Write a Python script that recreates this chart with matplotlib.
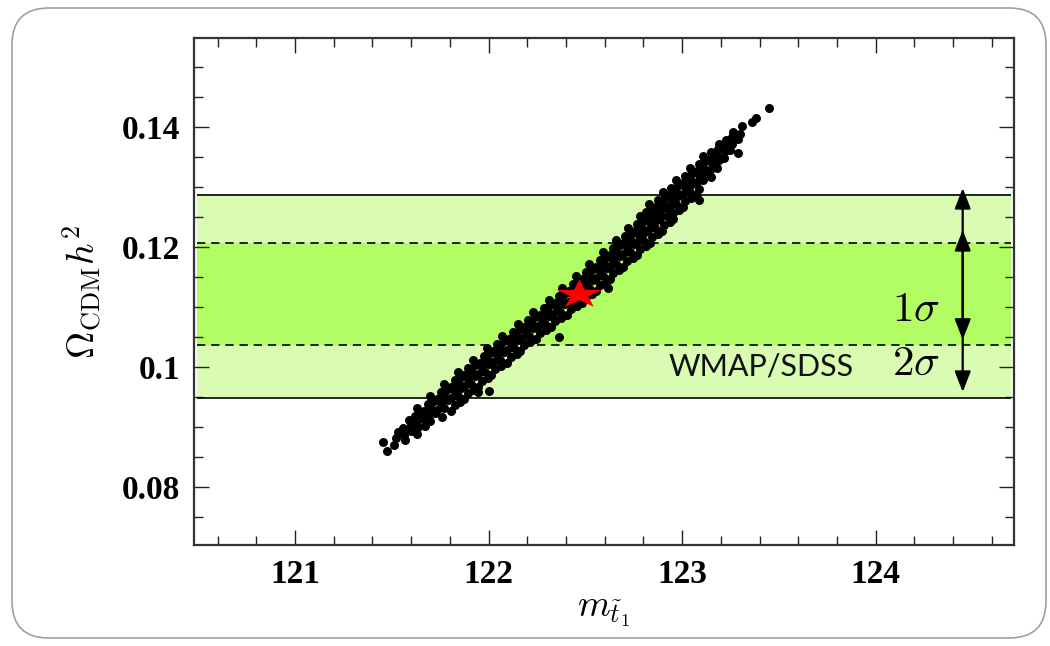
import numpy as np
import matplotlib
matplotlib.use("Agg")
import matplotlib.pyplot as plt
from matplotlib.path import Path
from matplotlib.patches import FancyBboxPatch
from matplotlib.ticker import MultipleLocator, FuncFormatter

plt.rcParams['mathtext.fontset'] = 'cm'

# scan points: stop mass vs relic density (row by row)
m_stop = [
    121.477,
    121.456, 121.51,
    121.52, 121.57,
    121.53, 121.565, 121.60, 121.63,
    121.56, 121.60, 121.635, 121.67,
    121.59, 121.625, 121.66, 121.70,
    121.62, 121.655, 121.69, 121.725, 121.76,
    121.63, 121.665, 121.70, 121.735, 121.77, 121.805,
    121.685, 121.72, 121.755, 121.79, 121.825, 121.855,
    121.70, 121.735, 121.77, 121.805, 121.84, 121.875,
    121.755, 121.79, 121.825, 121.86, 121.895, 121.925, 121.947, 122.004,
    121.77, 121.805, 121.84, 121.875, 121.91, 121.945,
    121.825, 121.86, 121.895, 121.93, 121.965, 121.995,
    121.84, 121.875, 121.91, 121.945, 121.98, 122.015,
    121.895, 121.93, 121.965, 122.00, 122.035, 122.065,
    121.92, 121.955, 121.99, 122.025, 122.06, 122.095,
    121.975, 122.01, 122.045, 122.08, 122.115, 122.145,
    121.99, 122.025, 122.06, 122.095, 122.13, 122.165,
    122.045, 122.08, 122.115, 122.15, 122.185, 122.215,
    122.07, 122.105, 122.14, 122.175, 122.21, 122.245, 122.366,
    122.125, 122.16, 122.195, 122.23, 122.265, 122.295,
    122.15, 122.185, 122.22, 122.255, 122.29, 122.325,
    122.205, 122.24, 122.275, 122.31, 122.345, 122.375,
    122.23, 122.265, 122.30, 122.335, 122.37, 122.405,
    122.285, 122.32, 122.355, 122.39, 122.425, 122.455,
    122.31, 122.345, 122.38, 122.415, 122.45, 122.485,
    122.365, 122.40, 122.435, 122.47, 122.505, 122.535,
    122.38, 122.415, 122.45, 122.485, 122.52, 122.555, 122.619,
    122.435, 122.47, 122.505, 122.54, 122.575, 122.605,
    122.45, 122.485, 122.52, 122.555, 122.59, 122.625,
    122.505, 122.54, 122.575, 122.61, 122.645, 122.675,
    122.52, 122.555, 122.59, 122.625, 122.66, 122.695,
    122.575, 122.61, 122.645, 122.68, 122.715, 122.745,
    122.59, 122.625, 122.66, 122.695, 122.73, 122.765,
    122.645, 122.68, 122.715, 122.75, 122.785, 122.815,
    122.66, 122.695, 122.73, 122.765, 122.80, 122.835,
    122.705, 122.74, 122.775, 122.81, 122.845, 122.875,
    122.72, 122.755, 122.79, 122.825, 122.86, 122.895,
    122.765, 122.80, 122.835, 122.87, 122.905, 122.935,
    122.78, 122.815, 122.85, 122.885, 122.92, 122.955,
    122.815, 122.85, 122.885, 122.92, 122.955, 122.985,
    122.83, 122.865, 122.90, 122.935, 122.97, 123.005,
    122.875, 122.91, 122.945, 122.98, 123.015, 123.045, 123.085,
    122.90, 122.935, 122.97, 123.005, 123.04, 123.07,
    122.945, 122.98, 123.015, 123.05, 123.085,
    122.97, 123.005, 123.04, 123.075, 123.11,
    123.015, 123.05, 123.085, 123.12, 123.15,
    123.04, 123.075, 123.11, 123.145, 123.18,
    123.085, 123.12, 123.155, 123.19,
    123.11, 123.145, 123.18, 123.215, 123.287,
    123.15, 123.185, 123.22, 123.25,
    123.19, 123.225, 123.26,
    123.225, 123.26, 123.29,
    123.265, 123.30,
    123.31, 123.36, 123.38, 123.45,
]
omega_h2 = [
    0.0860,
    0.0875, 0.0869,
    0.0882, 0.0878,
    0.0891, 0.0887, 0.0893, 0.0888,
    0.0898, 0.0903, 0.0899, 0.0902,
    0.0912, 0.0907, 0.0913, 0.0909,
    0.0918, 0.0922, 0.0919, 0.0923, 0.0917,
    0.0932, 0.0927, 0.0933, 0.0928, 0.0931, 0.0926,
    0.0938, 0.0943, 0.0939, 0.0944, 0.0937, 0.0941,
    0.0952, 0.0947, 0.0953, 0.0948, 0.0951, 0.0946,
    0.0958, 0.0963, 0.0959, 0.0964, 0.0957, 0.0961, 0.0958, 0.0960,
    0.0972, 0.0967, 0.0973, 0.0968, 0.0971, 0.0966,
    0.0978, 0.0983, 0.0979, 0.0984, 0.0977, 0.0981,
    0.0992, 0.0987, 0.0993, 0.0988, 0.0991, 0.0986,
    0.0998, 0.1003, 0.0999, 0.1004, 0.0997, 0.1001,
    0.1012, 0.1007, 0.1013, 0.1008, 0.1011, 0.1006,
    0.1018, 0.1023, 0.1019, 0.1024, 0.1017, 0.1021,
    0.1032, 0.1027, 0.1033, 0.1028, 0.1031, 0.1026,
    0.1038, 0.1043, 0.1039, 0.1044, 0.1037, 0.1041,
    0.1052, 0.1047, 0.1053, 0.1048, 0.1051, 0.1046, 0.1050,
    0.1058, 0.1063, 0.1059, 0.1064, 0.1057, 0.1061,
    0.1072, 0.1067, 0.1073, 0.1068, 0.1071, 0.1066,
    0.1078, 0.1083, 0.1079, 0.1084, 0.1077, 0.1081,
    0.1092, 0.1087, 0.1093, 0.1088, 0.1091, 0.1086,
    0.1098, 0.1103, 0.1099, 0.1104, 0.1097, 0.1101,
    0.1112, 0.1107, 0.1113, 0.1108, 0.1111, 0.1106,
    0.1118, 0.1123, 0.1119, 0.1124, 0.1117, 0.1121,
    0.1132, 0.1127, 0.1133, 0.1128, 0.1131, 0.1126, 0.1132,
    0.1138, 0.1143, 0.1139, 0.1144, 0.1137, 0.1141,
    0.1152, 0.1147, 0.1153, 0.1148, 0.1151, 0.1146,
    0.1158, 0.1163, 0.1159, 0.1164, 0.1157, 0.1161,
    0.1172, 0.1167, 0.1173, 0.1168, 0.1171, 0.1166,
    0.1178, 0.1183, 0.1179, 0.1184, 0.1177, 0.1181,
    0.1192, 0.1187, 0.1193, 0.1188, 0.1191, 0.1186,
    0.1198, 0.1203, 0.1199, 0.1204, 0.1197, 0.1201,
    0.1212, 0.1207, 0.1213, 0.1208, 0.1211, 0.1206,
    0.1218, 0.1223, 0.1219, 0.1224, 0.1217, 0.1221,
    0.1232, 0.1227, 0.1233, 0.1228, 0.1231, 0.1226,
    0.1238, 0.1243, 0.1239, 0.1244, 0.1237, 0.1241,
    0.1252, 0.1247, 0.1253, 0.1248, 0.1251, 0.1246,
    0.1258, 0.1263, 0.1259, 0.1264, 0.1257, 0.1261,
    0.1272, 0.1267, 0.1273, 0.1268, 0.1271, 0.1266,
    0.1278, 0.1283, 0.1279, 0.1284, 0.1277, 0.1281, 0.1278,
    0.1292, 0.1287, 0.1293, 0.1288, 0.1291, 0.1286,
    0.1298, 0.1303, 0.1299, 0.1304, 0.1297,
    0.1312, 0.1307, 0.1313, 0.1308, 0.1311,
    0.1318, 0.1323, 0.1319, 0.1324, 0.1317,
    0.1332, 0.1327, 0.1333, 0.1328, 0.1331,
    0.1338, 0.1343, 0.1339, 0.1344,
    0.1352, 0.1347, 0.1353, 0.1348, 0.1357,
    0.1358, 0.1363, 0.1359, 0.1362,
    0.1372, 0.1367, 0.1371,
    0.1378, 0.1383, 0.1379,
    0.1392, 0.1388,
    0.1402, 0.1408, 0.1415, 0.1432,
]

best_fit = (122.466, 0.1122)

# WMAP/SDSS bands
band_2sigma = (0.0948, 0.1287)
band_1sigma = (0.1037, 0.1207)
band_xrange = (120.493, 124.698)
arrow_x = 124.45
arrow_1sigma = (0.1045, 0.1228)
arrow_2sigma = (0.0958, 0.1298)

x_ticks = [121, 122, 123, 124]
y_ticks = [0.08, 0.10, 0.12, 0.14]

light_green = '#d9fcb2'
dark_green = '#b2fc64'

fig = plt.figure(figsize=(10.5, 6.46), dpi=100)

# rounded frame around the whole figure
frame = FancyBboxPatch((12 / 1050, 8 / 646), 1034 / 1050, 630 / 646,
                       boxstyle='round,pad=0,rounding_size=0.035',
                       transform=fig.transFigure, fc='none', ec='#a0a0a0',
                       lw=1.2, mutation_aspect=1050 / 646, zorder=-10)
fig.patches.append(frame)

ax = fig.add_axes([194 / 1050, 1 - 545 / 646, 820 / 1050, 507 / 646])
ax.set_xlim(120.478, 124.715)
ax.set_ylim(0.0703, 0.1548)

ax.fill_between(band_xrange, *band_2sigma, color=light_green, lw=0, zorder=1)
ax.fill_between(band_xrange, *band_1sigma, color=dark_green, lw=0, zorder=1)
ax.hlines(band_2sigma, *band_xrange, colors='black', lw=1.2, zorder=2)
ax.hlines(band_1sigma, *band_xrange, colors='black', lw=1.2,
          linestyles=(0, (5, 3.5)), zorder=2)

ax.scatter(m_stop, omega_h2, s=42, c='black', linewidths=0, zorder=3)

# squashed red star for the best-fit point
star = Path.unit_regular_star(5, 0.381966)
star = Path(star.vertices * np.array([1.0, 0.63]), star.codes)
ax.plot(*best_fit, marker=star, ms=33, color='red', mec='red', mew=0, zorder=4)

for lo, hi in (arrow_2sigma, arrow_1sigma):
    ax.annotate('', xy=(arrow_x, hi), xytext=(arrow_x, lo),
                arrowprops=dict(arrowstyle='<|-|>,head_length=0.9,head_width=0.35',
                                color='black', lw=1.6, shrinkA=0, shrinkB=0,
                                mutation_scale=14), zorder=5)

ax.text(124.33, 0.1097, r'$1\sigma$', fontsize=31, ha='right', va='center', zorder=5)
ax.text(124.33, 0.1006, r'$2\sigma$', fontsize=31, ha='right', va='center', zorder=5)
ax.text(123.41, 0.1001, 'WMAP/SDSS', fontsize=22, family='Lato',
        fontweight='normal', color='#111111', ha='center', va='center', zorder=5)

ax.xaxis.set_major_locator(plt.FixedLocator(x_ticks))
ax.xaxis.set_minor_locator(MultipleLocator(0.2))
ax.yaxis.set_major_locator(plt.FixedLocator(y_ticks))
ax.yaxis.set_minor_locator(MultipleLocator(0.005))
ax.xaxis.set_major_formatter(FuncFormatter(lambda v, p: '%g' % v))
ax.yaxis.set_major_formatter(FuncFormatter(lambda v, p: '%g' % round(v, 3)))

ax.tick_params(which='both', direction='in', top=True, right=True,
               color='#222222', width=1.0)
ax.tick_params(which='major', length=11, pad=10)
ax.tick_params(which='minor', length=6.5)
for lab in ax.get_xticklabels() + ax.get_yticklabels():
    lab.set_family('Liberation Serif')
    lab.set_fontweight('bold')
    lab.set_fontsize(24)

for sp in ax.spines.values():
    sp.set_linewidth(1.6)
    sp.set_color('#333333')

ax.set_ylabel(r'$\Omega_{\mathrm{CDM}}h^2$', fontsize=27, labelpad=12)
ax.set_xlabel(r'$m_{\tilde{t}_1}$', fontsize=27, labelpad=2)

fig.savefig('out.png', dpi=100)
